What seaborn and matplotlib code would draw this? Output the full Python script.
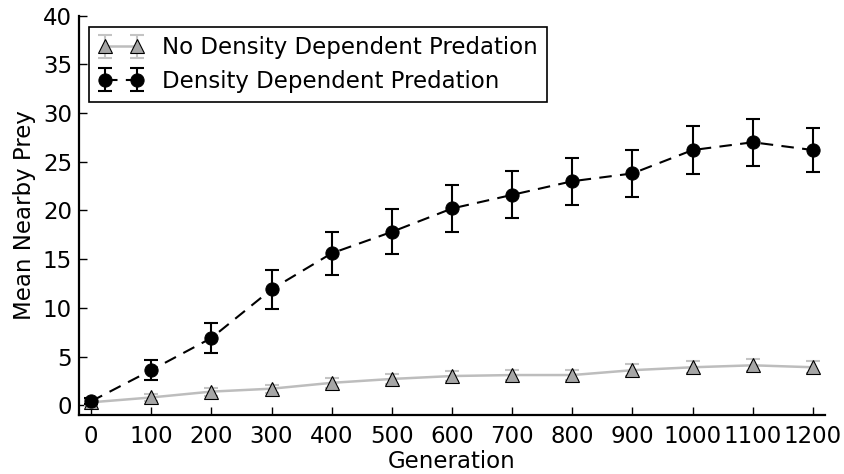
import numpy as np
import pandas as pd
import matplotlib
matplotlib.use("Agg")
import matplotlib.pyplot as plt
import seaborn as sns
from matplotlib.legend_handler import HandlerTuple

generation = [0, 100, 200, 300, 400, 500, 600, 700, 800, 900, 1000, 1100, 1200]

# no density dependent predation
no_ddp_mean = [0.3, 0.8, 1.4, 1.7, 2.3, 2.7, 3.0, 3.1, 3.1, 3.6, 3.9, 4.1, 3.9]
no_ddp_err = [0.3, 0.4, 0.4, 0.4, 0.5, 0.5, 0.5, 0.5, 0.5, 0.6, 0.6, 0.6, 0.6]

# density dependent predation
ddp_mean = [0.4, 3.6, 6.9, 11.9, 15.6, 17.8, 20.2, 21.6, 23.0, 23.8, 26.2, 27.0, 26.2]
ddp_err = [0.3, 1.0, 1.5, 2.0, 2.2, 2.3, 2.4, 2.4, 2.4, 2.4, 2.5, 2.4, 2.3]

df = pd.DataFrame({'Generation': generation,
                   'no_ddp': no_ddp_mean, 'no_ddp_err': no_ddp_err,
                   'ddp': ddp_mean, 'ddp_err': ddp_err})

sns.set_style("white")
plt.rcParams['font.family'] = ['DejaVu Sans']
plt.rcParams['text.color'] = 'black'
plt.rcParams['axes.labelcolor'] = 'black'
plt.rcParams['xtick.color'] = 'black'
plt.rcParams['ytick.color'] = 'black'

fs = 16.5

fig = plt.figure(figsize=(8.44, 4.74), dpi=100)
ax = fig.add_axes([0.0936, 0.1245, 0.9775 - 0.0936, 0.967 - 0.1245])

# gray series
eb1 = ax.errorbar(df['Generation'], df['no_ddp'], yerr=df['no_ddp_err'], fmt='none',
                  ecolor='#c4c4c4', elinewidth=1.5, capsize=5, capthick=1.5, zorder=2)
sns.lineplot(data=df, x='Generation', y='no_ddp', ax=ax, color='#bdbdbd', lw=1.8,
             marker='^', markersize=10, markerfacecolor='#a6a6a6', markeredgecolor='black',
             markeredgewidth=0.8, zorder=3, legend=False)
ln1 = ax.lines[-1]

# black series
eb2 = ax.errorbar(df['Generation'], df['ddp'], yerr=df['ddp_err'], fmt='none',
                  ecolor='black', elinewidth=1.5, capsize=5, capthick=1.5, zorder=4)
sns.lineplot(data=df, x='Generation', y='ddp', ax=ax, color='black', lw=1.5,
             linestyle=(0, (6, 4)), marker='o', markersize=9.5, markerfacecolor='black',
             markeredgecolor='black', zorder=5, legend=False)
ln2 = ax.lines[-1]

ax.set_xlim(-20, 1220)
ax.set_ylim(-1, 40)
ax.set_xticks(generation)
ax.set_yticks(range(0, 41, 5))
ax.tick_params(direction='in', length=6, width=1, labelsize=fs,
               top=False, right=False, left=True, bottom=True)
ax.tick_params(axis='x', pad=7)
ax.tick_params(axis='y', pad=5)
for s in ['top', 'right']:
    ax.spines[s].set_visible(False)
for s in ['left', 'bottom']:
    ax.spines[s].set_linewidth(1.6)
    ax.spines[s].set_color('black')

ax.set_xlabel("Generation", fontsize=fs, labelpad=2)
ax.set_ylabel("Mean Nearby Prey", fontsize=fs, labelpad=5)

leg = ax.legend([(eb1, ln1), (eb2, ln2)],
                ["No Density Dependent Predation", "Density Dependent Predation"],
                handler_map={tuple: HandlerTuple(ndivide=1)}, numpoints=2,
                loc='upper left', bbox_to_anchor=(0.013, 0.971), fontsize=fs,
                frameon=True, fancybox=False, edgecolor='black', framealpha=1,
                handlelength=2.0, handletextpad=0.8, borderpad=0.4, labelspacing=0.45,
                borderaxespad=0)
leg.get_frame().set_linewidth(1.2)

fig.savefig("out.png", dpi=100)
